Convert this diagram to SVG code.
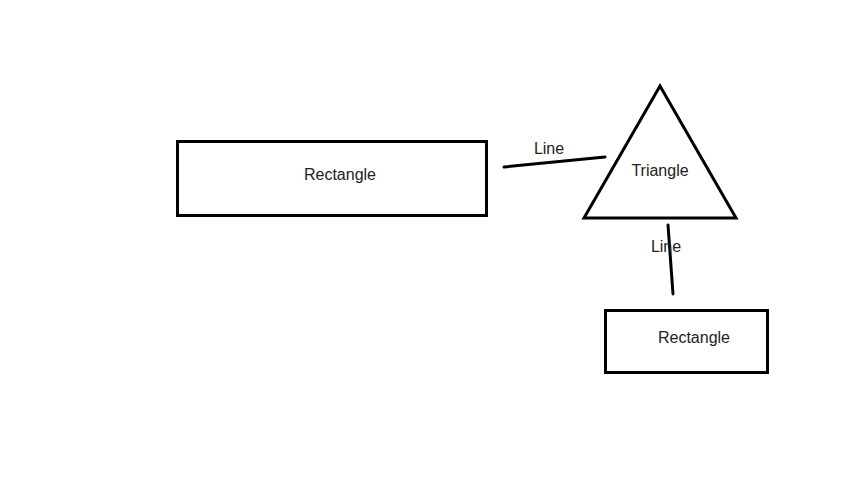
<svg xmlns="http://www.w3.org/2000/svg" width="850" height="478" viewBox="0 0 850 478">
<style>
.shape{fill:none;stroke:#000;stroke-width:3;stroke-linejoin:miter}
.conn{stroke:#000;stroke-width:3;stroke-linecap:round}
.lbl{font-family:"Liberation Sans","DejaVu Sans",sans-serif;font-size:16px;fill:#222;text-anchor:middle;dominant-baseline:central}
</style>
<rect width="850" height="478" fill="#fff"/>
<g id="rect1">
<rect class="shape" x="177.5" y="141.5" width="309" height="74"/>
<text class="lbl" x="340" y="174">Rectangle</text>
</g>
<g id="triangle">
<polygon class="shape" points="660,86 584,218 736,218"/>
<text class="lbl" x="660" y="170">Triangle</text>
</g>
<g id="rect2">
<rect class="shape" x="605.5" y="310.5" width="162" height="62"/>
<text class="lbl" x="694" y="337">Rectangle</text>
</g>
<g id="connectors">
<line class="conn" x1="504" y1="167" x2="605" y2="157"/>
<text class="lbl" x="549" y="148">Line</text>
<line class="conn" x1="668" y1="225" x2="673" y2="294"/>
<text class="lbl" x="666" y="246">Line</text>
</g>
</svg>
